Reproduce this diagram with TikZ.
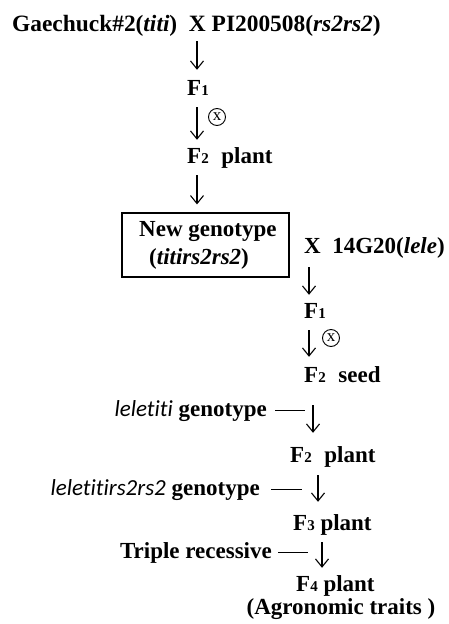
\documentclass[tikz,border=0pt]{standalone}
\usepackage{fontspec}
\setmainfont{Liberation Serif}
\newfontfamily\genofont[Ligatures=NoCommon]{Carlito}
\usetikzlibrary{arrows.meta}
% smaller digit for generation numbers (F1, F2, ...)
\newcommand\smdig[1]{{\fontsize{15}{15}\selectfont #1}}
% genotype symbols in the selection labels
\newcommand\geno[1]{{\genofont\mdseries\itshape #1}}
\begin{document}
\begin{tikzpicture}[x=1pt,y=-1pt,
  lbl/.style={anchor=base west, inner sep=0pt, text height=16pt, text depth=5pt,
              font=\fontsize{23}{26}\selectfont\bfseries},
  lblr/.style={lbl, anchor=base east},
  arr/.style={line width=1.1pt, -{Straight Barb[length=8pt,width=13pt,line width=1.1pt]}},
  tie/.style={line width=1.1pt},
  selfmark/.style={circle, draw, line width=0.9pt, minimum size=17pt, inner sep=0pt,
                   font=\fontsize{17}{17}\selectfont}]
\useasboundingbox (0,0) rectangle (449,624);

% arrow columns
\coordinate (ca) at (197,0);
\coordinate (cb) at (309,0);
\coordinate (cc) at (313,0);
\coordinate (cd) at (318,0);
\coordinate (ce) at (322,0);

% first cross
\node[lbl, font=\fontsize{23.4}{26}\selectfont\bfseries] (cross1) at (12,31)
  {Gaechuck\#2(\textit{titi})\hspace{0.5em}X PI200508(\textit{rs2rs2})};
\node[lbl] (f1a) at (187,95) {F\smdig{1}};
\node[selfmark] (self1) at (217,117) {x};
\node[lbl] (f2a) at (187,163) {F\smdig{2}\hspace{0.3em} plant};
\node[draw, line width=1.2pt, minimum width=167pt, minimum height=64pt, inner sep=0pt] (box) at (205.5,245) {};
\node[lbl] (newg) at (139,236) {New genotype};
\node[lbl] (newgt) at (149,264) {(\textit{titirs2rs2})};

% second cross
\node[lbl] (cross2) at (304,253) {X\hspace{0.25em} 14G20(\textit{lele})};
\node[lbl] (f1b) at (304,318) {F\smdig{1}};
\node[selfmark] (self2) at (331,338) {x};
\node[lbl] (f2s) at (304,382) {F\smdig{2}\hspace{0.3em} seed};

% selection steps
\node[lblr] (sel1) at (267,416) {\geno{leletiti} genotype};
\node[lbl] (f2p) at (290,462) {F\smdig{2}\hspace{0.3em} plant};
\node[lblr] (sel2) at (260,495) {\geno{leletitirs2rs2} genotype};
\node[lbl] (f3p) at (293,530) {F\smdig{3} plant};
\node[lblr] (sel3) at (272,558) {Triple recessive};
\node[lbl] (f4p) at (296,591) {F\smdig{4} plant};
\node[lbl, anchor=base] (trait) at (341,614) {(Agronomic traits )};

% generation arrows
\draw[arr, shorten <=5pt, shorten >=9pt] (cross1.south -| ca) -- (f1a.north -| ca);
\draw[arr, shorten <=7pt, shorten >=7pt] (f1a.south -| ca) -- (f2a.north -| ca);
\draw[arr, shorten <=7pt, shorten >=8pt] (f2a.south -| ca) -- (box.north -| ca);
\draw[arr, shorten <=9pt, shorten >=7pt] (cross2.south -| cb) -- (f1b.north -| cb);
\draw[arr, shorten <=7pt, shorten >=9pt] (f1b.south -| cb) -- (f2s.north -| cb);
\draw[arr, shorten <=18pt, shorten >=13pt] (f2s.south -| cc) -- (f2p.north -| cc);
\draw[arr, shorten <=8pt, shorten >=12pt] (f2p.south -| cd) -- (f3p.north -| cd);
\draw[arr, shorten <=7pt, shorten >=7pt] (f3p.south -| ce) -- (f4p.north -| ce);

% selection ties
\draw[tie, shorten <=8pt, shorten >=8pt] (sel1.east) -- (sel1.east -| cc);
\draw[tie, shorten <=11pt, shorten >=16pt] (sel2.east) -- (sel2.east -| cd);
\draw[tie, shorten <=6pt, shorten >=14pt] (sel3.east) -- (sel3.east -| ce);
\end{tikzpicture}
\end{document}
